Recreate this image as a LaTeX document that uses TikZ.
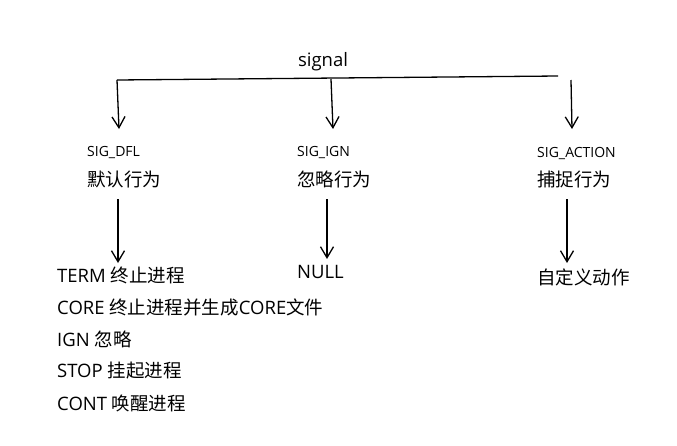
\documentclass[tikz,border=0pt]{standalone}
\usepackage{fontspec}
\setmainfont{Open Sans}
\newfontfamily\cjk{Noto Sans CJK SC}
\usetikzlibrary{arrows.meta}
\begin{document}
\begin{tikzpicture}[x=1pt,y=-1pt,
  lbl/.style={anchor=west,inner sep=0pt,font=\fontsize{18.5}{22}\selectfont},
  sml/.style={anchor=west,inner sep=0pt,font=\fontsize{14}{16}\selectfont},
  ln/.style={line width=1.3pt,black},
  arr/.style={ln,-{Straight Barb[length=11pt,width=13pt,line width=1.3pt]}}]
\useasboundingbox (0,0) rectangle (677,445);
\node[anchor=center,inner sep=0pt,font=\fontsize{18.5}{22}\selectfont] (sig) at (323,62) {signal};
% top bus
\coordinate (b1) at (117,80);
\coordinate (b2) at (331,79);
\coordinate (b3) at (558,76);
\coordinate (b4) at (571,80);
\draw[ln] (b1) -- (b3);
% level labels
\node[sml] (dfl) at (87,153) {SIG\_DFL};
\node[lbl] (dfl2) at (87,179) {\cjk 默认行为};
\node[sml] (ign) at (297,153) {SIG\_IGN};
\node[lbl] (ign2) at (297,179) {\cjk 忽略行为};
\node[sml] (act) at (537,153) {SIG\_ACTION};
\node[lbl] (act2) at (537,179) {\cjk 捕捉行为};
\coordinate (t1) at (119,129);
\coordinate (t2) at (333,129);
\coordinate (t3) at (572,129);
\draw[arr] (b1) -- (t1);
\draw[arr] (b2) -- (t2);
\draw[arr] (b4) -- (t3);
% bottom
\node[lbl] (term) at (57,275) {TERM {\cjk 终止进程}};
\node[lbl] (core) at (57,307) {CORE {\cjk 终止进程并生成}CORE{\cjk 文件}};
\node[lbl] (ignl) at (57,339) {IGN {\cjk 忽略}};
\node[lbl] (stop) at (57,371) {STOP {\cjk 挂起进程}};
\node[lbl] (cont) at (57,403) {CONT {\cjk 唤醒进程}};
\node[lbl] (null) at (297,272) {NULL};
\node[lbl] (cust) at (537,277) {\cjk 自定义动作};
\coordinate (s1) at (118,199);
\coordinate (e1) at (118,263);
\coordinate (s2) at (327,199);
\coordinate (e2) at (327,259);
\coordinate (s3) at (567,199);
\coordinate (e3) at (567,263);
\draw[arr] (s1) -- (e1);
\draw[arr] (s2) -- (e2);
\draw[arr] (s3) -- (e3);
\end{tikzpicture}
\end{document}
